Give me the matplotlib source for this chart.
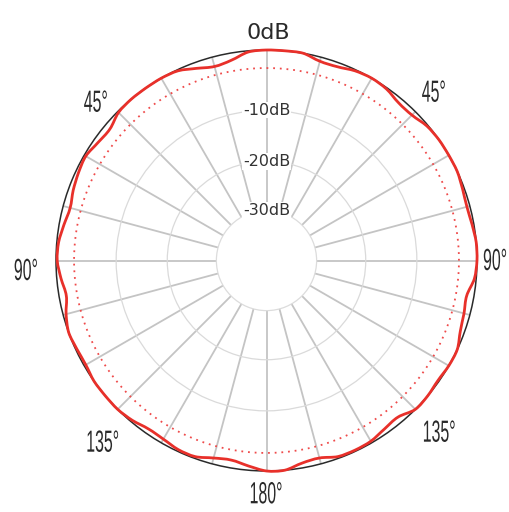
import numpy as np
import matplotlib
matplotlib.use('Agg')
import matplotlib.pyplot as plt
from matplotlib import patheffects
from matplotlib.transforms import Affine2D
from matplotlib.path import Path
from matplotlib.patches import PathPatch

# ---------------- data ----------------
angles_deg = list(range(0, 360, 5))
response_db = [0.0, 0.0, 0.0, -0.7, -0.7, -0.2, 0.0, -0.2, -0.8, -0.8,
               -0.2, 0.0, 0.0, 0.0, -0.3, -0.5, -0.3, 0.0, 0.0, -0.3,
               -1.2, -1.0, -0.7, 0.0, 0.0, -0.2, 0.0, 0.0, -1.0, -0.8,
               -0.3, -0.2, -0.3, -1.0, -0.8, 0.0, 0.0, -0.7, -1.3, -1.0,
               -0.3, -0.3, -0.7, -0.8, -0.3, 0.0, 0.0, 0.0, -0.3, -0.2,
               0.0, -0.5, -1.2, -0.7, -0.2, -0.3, -0.8, -1.2, -0.8, -0.5,
               -0.3, -0.8, -1.0, -0.2, 0.0, 0.0, 0.0, -0.2, -1.0, -1.6,
               -1.2, -0.2]
reference_db = -3.0
ring_levels = [-30, -20, -10]
ring_labels = ['-30dB', '-20dB', '-10dB']
top_label = '0dB'
angle_labels = ['45°', '45°', '90°', '90°', '135°', '135°', '180°']

# radial scale of the chart (dB -> relative radius)
db_knots = [-40, -30, -20, -10, 0, 10]
r_knots = [0, 50, 99, 150, 210, 270]


def fwd(d):
    return np.interp(d, db_knots, r_knots)


def inv(r):
    return np.interp(r, r_knots, db_knots)


class Squeeze(patheffects.AbstractPathEffect):
    """Draw text horizontally condensed around an anchor of its extent."""
    def __init__(self, sx, anchor='center'):
        super().__init__()
        self.sx = sx
        self.anchor = anchor

    def draw_path(self, renderer, gc, tpath, affine, rgbFace=None):
        ext = tpath.get_extents()
        if self.anchor == 'right':
            ax_ = ext.x1
        elif self.anchor == 'left':
            ax_ = ext.x0
        else:
            ax_ = 0.5 * (ext.x0 + ext.x1)
        pre = Affine2D().translate(-ax_, 0).scale(self.sx, 1).translate(ax_, 0)
        renderer.draw_path(gc, tpath, pre + affine, rgbFace)


def smooth_closed_path(theta, r):
    """Closed Catmull-Rom curve through the given points (as Bezier path)."""
    n = len(theta)
    full = 2 * np.pi
    pts = np.column_stack([theta, r])
    verts = [pts[0]]
    codes = [Path.MOVETO]
    for i in range(n):
        p0 = pts[i - 1].copy()
        p1 = pts[i].copy()
        p2 = pts[(i + 1) % n].copy()
        p3 = pts[(i + 2) % n].copy()
        if i == 0:
            p0[0] -= full
        if i + 1 >= n:
            p2[0] += full
        if i + 2 >= n:
            p3[0] += full
        c1 = p1 + (p2 - p0) / 6.0
        c2 = p2 - (p3 - p1) / 6.0
        verts += [c1, c2, p2]
        codes += [Path.CURVE4] * 3
    return Path(np.array(verts), codes)


W, H = 509, 512
fig = plt.figure(figsize=(W / 100, H / 100), dpi=100)
fig.patch.set_facecolor('white')

cx, cy, R = 266.5, 260.5, 210.5
ax = fig.add_axes([(cx - R) / W, (H - cy - R) / H, 2 * R / W, 2 * R / H],
                  projection='polar')
ax.set_theta_zero_location('N')
ax.set_theta_direction(-1)
ax.set_rscale('function', functions=(fwd, inv))
ax.set_rorigin(-40)
ax.set_ylim(-30, 0)

ax.set_xticks(np.deg2rad(np.arange(0, 360, 15)))
ax.set_xticklabels([])
ax.set_yticks([-20, -10])
ax.set_yticklabels([])
ax.xaxis.grid(True, color='#c4c4c4', lw=1.3)
ax.yaxis.grid(True, color='#dadada', lw=0.9)
ax.spines['polar'].set_color('#2a2a2a')
ax.spines['polar'].set_linewidth(1.1)
ax.spines['inner'].set_color('#dcdcdc')
ax.spines['inner'].set_linewidth(0.9)
ax.tick_params(length=0)

# reference (dotted) circle
th_ref = np.deg2rad(np.arange(0, 361, 1))
ax.plot(th_ref, np.full(th_ref.shape, reference_db), color='#ef4a4a',
        lw=1.3, linestyle=(0, (1, 2.7)), zorder=3)

# response curve (smooth curve through the read points)
th = np.deg2rad(np.array(angles_deg, dtype=float))
rr = np.array(response_db, dtype=float)
curve = PathPatch(smooth_closed_path(th, rr), transform=ax.transData,
                  fill=False, edgecolor='#e8302a', lw=2.0, zorder=4,
                  clip_on=False, joinstyle='round')
ax.add_patch(curve)

# ring labels
for lev, lab in zip(ring_levels, ring_labels):
    ax.text(0, lev, lab, ha='center', va='center', fontsize=11.5,
            color='#333333', family='DejaVu Sans', zorder=5,
            bbox=dict(facecolor='white', edgecolor='none', pad=0.6))

fig.text(268.5 / W, 1 - 39 / H, top_label, ha='center', va='baseline',
         fontsize=16, color='#2a2a2a', family='DejaVu Sans')

angle_pos = [(96, 111.7, 'center'), (434, 101.7, 'center'),
             (26, 280, 'center'), (508, 270, 'right'),
             (102.5, 451.7, 'center'), (439, 441.7, 'center'),
             (266, 503.3, 'center')]
for lab, (x, y, ha) in zip(angle_labels, angle_pos):
    fig.text(x / W, 1 - y / H, lab, ha=ha, va='baseline',
             fontsize=22, color='#2a2a2a', family='Liberation Sans',
             path_effects=[Squeeze(0.52, anchor=ha)])

fig.savefig('out.png', dpi=100, facecolor='white')
